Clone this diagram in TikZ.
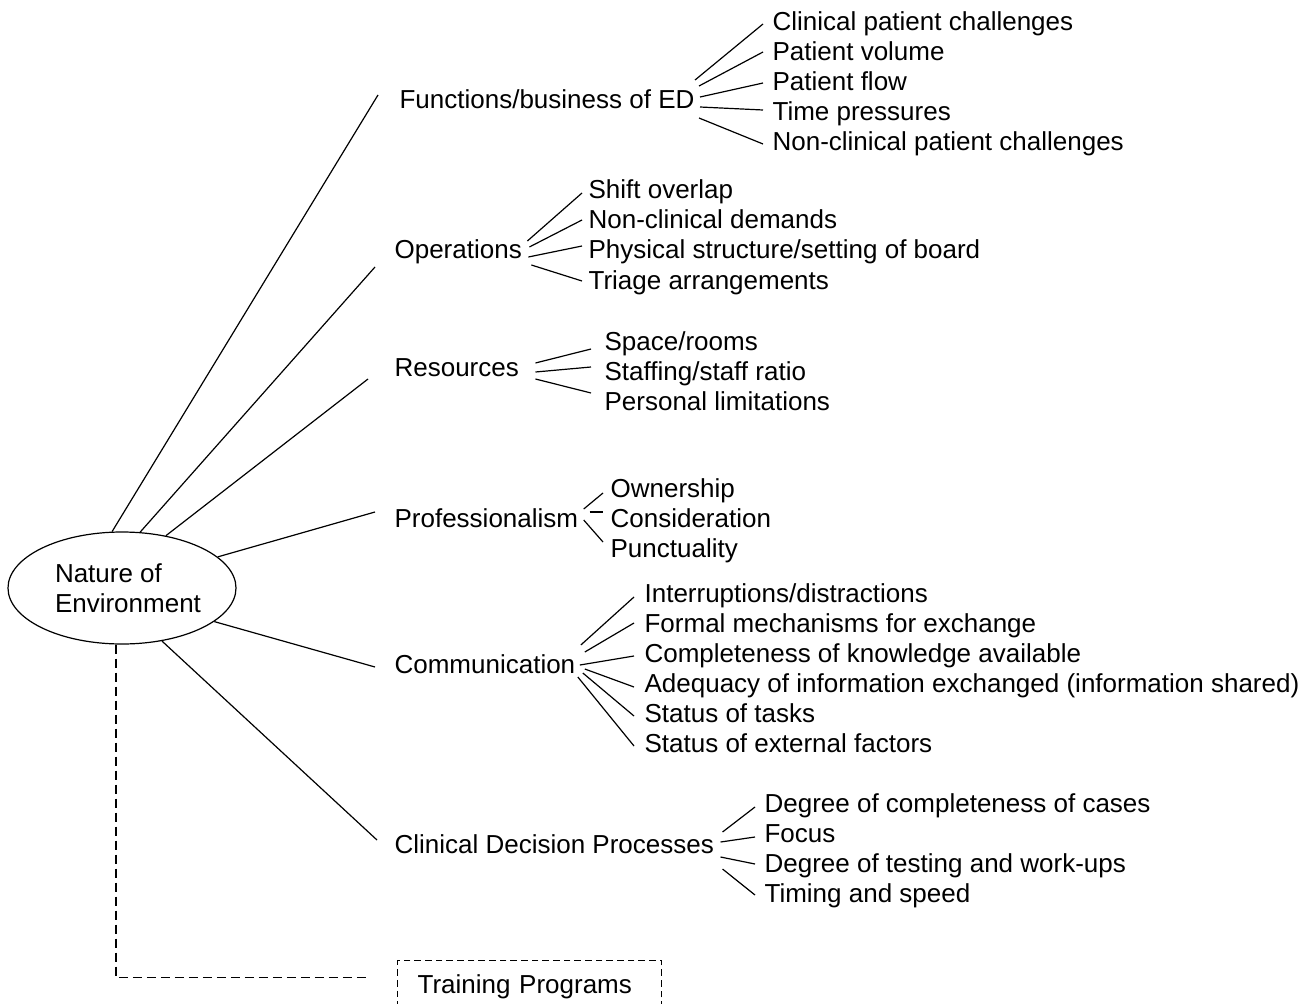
\documentclass[tikz,border=0pt]{standalone}
\usepackage{fontspec}
\setmainfont{Liberation Sans}
\usetikzlibrary{shapes.geometric,calc}

\begin{document}
\begin{tikzpicture}[x=0.75pt,y=-0.75pt,line width=0.9pt,
	font=\fontsize{19.5}{22.5}\selectfont,
	hub/.style={ellipse,draw,inner sep=0pt,minimum width=171pt,minimum height=84pt,align=left},
	branch/.style={anchor=west,inner sep=0pt,text height=1.2em,text depth=0pt},
	leaf/.style={anchor=west,inner ysep=0pt,inner xsep=#1,text height=1.2em,text depth=0pt},
	leaf/.default=6.75pt,
	trainbox/.style={draw,dash pattern=on 5pt off 3pt,anchor=north west,inner xsep=15pt,inner ysep=0pt,
		minimum height=37.5pt,text width=168pt,align=left,text height=1.2em,text depth=0pt},
	dashlink/.style={dash pattern=on 7pt off 3.5pt}]
	
	\useasboundingbox (0,0) rectangle (1313,1003);
	
	\node[hub] (hub) at (122,588) {\hspace*{9pt}Nature of\\\hspace*{9pt}Environment};
	
	% main branches
	\node[branch] (func) at (399,100) {Functions/business of ED};
	\node[branch] (ops) at (394,250) {Operations};
	\node[branch] (res) at (394,368) {Resources};
	\node[branch] (prof) at (394,519) {Professionalism};
	\node[branch] (comm) at (394,665) {Communication};
	\node[branch] (clin) at (394,845) {Clinical Decision Processes};
	\node[trainbox] (train) at (397,960) {Training Programs};
	
	\draw (hub.100) -- ($(func.west)+(-21,-5)$);
	\draw (hub.72) -- ($(ops.west)+(-19,17)$);
	\draw (hub.50) -- ($(res.west)+(-26,11)$);
	\draw (hub.18) -- ($(prof.west)+(-19,-7)$);
	\draw (hub.-20) -- ($(comm.west)+(-19,2)$);
	\draw (hub.-53) -- ($(clin.west)+(-17,-5)$);
	\draw[dashlink] (hub.-96) |- ($(train.west)+(-29,-8)$);
	
	% functions/business of ED
	\node[leaf] (f1) at (763,22) {Clinical patient challenges};
	\node[leaf] (f2) at (763,52) {Patient volume};
	\node[leaf] (f3) at (763,82) {Patient flow};
	\node[leaf] (f4) at (763,112) {Time pressures};
	\node[leaf] (f5) at (763,142) {Non-clinical patient challenges};
	\foreach \c/\sx/\sy/\ey in {f1/0/-20/2,f2/4/-14/0,f3/5/-3/1,f4/5/7/-2,f5/4/18/2}
		\draw ($(func.east)+(\sx,\sy)$) -- ($(\c.west)+(0,\ey)$);
	
	% operations
	\node[leaf=4.5pt] (o1) at (582,190) {Shift overlap};
	\node[leaf=4.5pt] (o2) at (582,220) {Non-clinical demands};
	\node[leaf=4.5pt] (o3) at (582,250) {Physical structure/setting of board};
	\node[leaf=4.5pt] (o4) at (582,281) {Triage arrangements};
	\foreach \c/\sx/\sy/\ey in {o1/5/-9/3,o2/7/-3/0,o3/6/7/-4,o4/9/15/0}
		\draw ($(ops.east)+(\sx,\sy)$) -- ($(\c.west)+(0,\ey)$);
	
	% resources
	\node[leaf=9.75pt] (r1) at (591,342) {Space/rooms};
	\node[leaf=9.75pt] (r2) at (591,372) {Staffing/staff ratio};
	\node[leaf=9.75pt] (r3) at (591,402) {Personal limitations};
	\foreach \c/\sx/\sy/\ey in {r1/16/-5/7,r2/16/4/-5,r3/16/11/-9}
		\draw ($(res.east)+(\sx,\sy)$) -- ($(\c.west)+(0,\ey)$);
	
	% professionalism
	\node[leaf=5.25pt] (p1) at (603,489) {Ownership};
	\node[leaf=5.25pt] (p2) at (603,519) {Consideration};
	\node[leaf=5.25pt] (p3) at (603,549) {Punctuality};
	\foreach \c/\sx/\sy/\ey in {p1/5/-10/4,p2/11/-7/-7,p3/5/1/-7}
		\draw ($(prof.east)+(\sx,\sy)$) -- ($(\c.west)+(0,\ey)$);
	
	% communication
	\node[leaf=7.5pt] (c1) at (634,594) {Interruptions/distractions};
	\node[leaf=7.5pt] (c2) at (634,624) {Formal mechanisms for exchange};
	\node[leaf=7.5pt] (c3) at (634,654) {Completeness of knowledge available};
	\node[leaf=7.5pt] (c4) at (634,684) {Adequacy of information exchanged (information shared)};
	\node[leaf=7.5pt] (c5) at (634,714) {Status of tasks};
	\node[leaf=7.5pt] (c6) at (634,744) {Status of external factors};
	\foreach \c/\sx/\sy/\ey in {c1/5/-20/3,c2/9/-13/-1,c3/4/0/2,c4/9/4/3,c5/7/8/2,c6/2/12/2}
		\draw ($(comm.east)+(\sx,\sy)$) -- ($(\c.west)+(0,\ey)$);
	
	% clinical decision processes
	\node[leaf] (d1) at (755,804) {Degree of completeness of cases};
	\node[leaf] (d2) at (755,834) {Focus};
	\node[leaf] (d3) at (755,864) {Degree of testing and work-ups};
	\node[leaf] (d4) at (755,894) {Timing and speed};
	\foreach \c/\sx/\sy/\ey in {d1/8/-13/3,d2/6/-3/3,d3/6/12/0,d4/8/24/1}
		\draw ($(clin.east)+(\sx,\sy)$) -- ($(\c.west)+(0,\ey)$);
	
\end{tikzpicture}
\end{document}
